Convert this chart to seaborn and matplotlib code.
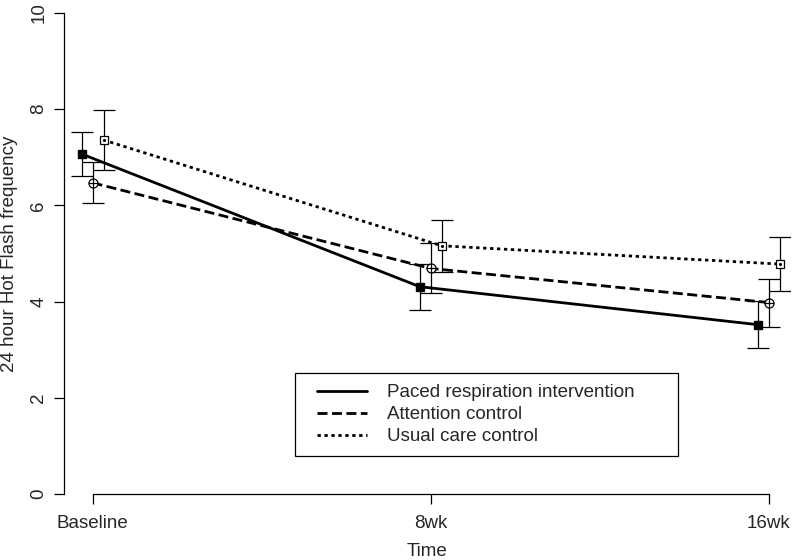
import numpy as np
import pandas as pd
import matplotlib
matplotlib.use("Agg")
import matplotlib.pyplot as plt
import matplotlib.patches as mpatches
import seaborn as sns

# data
times = ["Baseline", "8wk", "16wk"]
groups = ["Paced respiration intervention", "Attention control", "Usual care control"]
paced_mean = [7.07, 4.31, 3.52]
paced_se = [0.45, 0.48, 0.49]
attention_mean = [6.47, 4.69, 3.98]
attention_se = [0.43, 0.52, 0.50]
usual_mean = [7.36, 5.16, 4.78]
usual_se = [0.62, 0.54, 0.57]

means = [paced_mean, attention_mean, usual_mean]
ses = [paced_se, attention_se, usual_se]

sns.set_style("ticks")
plt.rcParams['font.family'] = ['Liberation Sans', 'DejaVu Sans']
plt.rcParams['font.size'] = 13.5

fig = plt.figure(figsize=(7.93, 5.6), dpi=100)
ax = fig.add_axes([64 / 793, 66 / 560, 726 / 793, 481 / 560])

# styles per group
offsets = [-0.0325, 0.0, 0.0325]
styles = ['-', (0, (3.6, 1.6)), (0, (1.2, 1.3))]

for i, name in enumerate(groups):
    xs = np.arange(1, len(times) + 1) + offsets[i]
    df = pd.DataFrame({'x': xs, 'y': means[i]})
    ax.errorbar(xs, means[i], yerr=ses[i], fmt='none', ecolor='black',
                elinewidth=0.9, capsize=7.9, capthick=0.9, zorder=2)
    sns.lineplot(data=df, x='x', y='y', ax=ax, color='black', lw=2.0,
                 linestyle=styles[i], label=name, sort=False, errorbar=None, zorder=3)

# markers
x0 = np.arange(1, len(times) + 1)
ax.plot(x0 + offsets[0], paced_mean, 's', color='black', ms=6, zorder=4)
ax.plot(x0 + offsets[1], attention_mean, 'o', mfc='white', mec='black', mew=0.9, ms=6.5, zorder=4)
ax.plot(x0 + offsets[1], attention_mean, '+', color='black', mew=0.9, ms=6.5, zorder=5)
ax.plot(x0 + offsets[2], usual_mean, 's', mfc='white', mec='black', mew=0.9, ms=6, zorder=4)
ax.plot(x0 + offsets[2], usual_mean, '.', color='black', ms=2.5, zorder=5)

ax.set_xlim(0.9157, 3.0621)
ax.set_ylim(0, 10)
ax.set_xticks(x0)
ax.set_xticklabels(times)
ax.set_yticks([0, 2, 4, 6, 8, 10])
ax.tick_params(axis='both', length=7, width=0.9, color='black', labelsize=13.5)
ax.tick_params(axis='x', pad=8)
ax.tick_params(axis='y', labelrotation=90, pad=5)
for lab in ax.get_yticklabels():
    lab.set_va('center')

for s in ['top', 'right']:
    ax.spines[s].set_visible(False)
ax.spines['left'].set_bounds(0, 10)
ax.spines['bottom'].set_bounds(1, 3)
for s in ['left', 'bottom']:
    ax.spines[s].set_linewidth(0.9)
    ax.spines[s].set_color('black')

ax.set_xlabel("Time", fontsize=13.5)
ax.set_ylabel("24 hour Hot Flash frequency", fontsize=13.5)
ax.xaxis.set_label_coords(0.5, -0.102)
ax.yaxis.set_label_coords(-0.064, 0.5)

# legend with separate frame
ax.legend(loc='upper left', bbox_to_anchor=(0.348, 0.228), frameon=False,
          borderpad=0, borderaxespad=0, handlelength=2.7, handletextpad=1.03,
          labelspacing=0.26, fontsize=13.5)
ax.add_patch(mpatches.Rectangle((0.3182, 0.079), 0.5275, 0.1726, transform=ax.transAxes,
                                fill=False, edgecolor='black', lw=0.9, zorder=6))

fig.savefig("out.png", dpi=100)
